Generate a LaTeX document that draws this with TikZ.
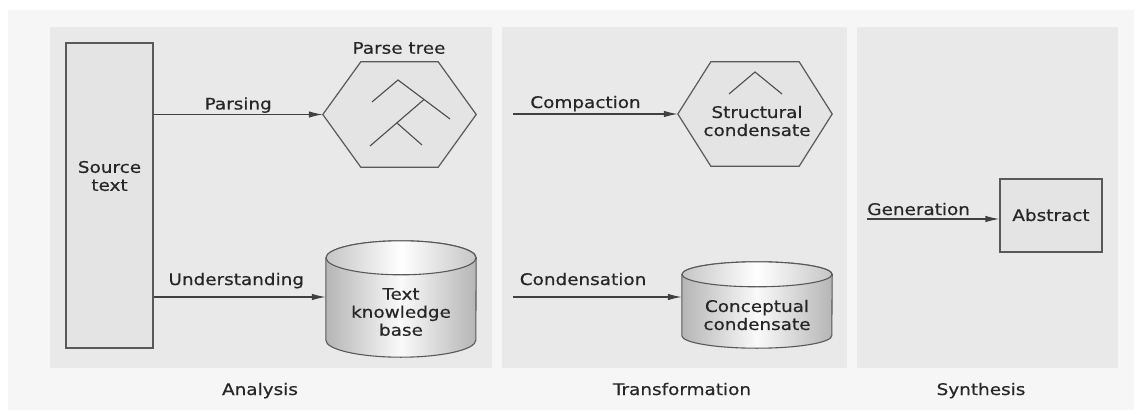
\documentclass[tikz,border=0pt]{standalone}
\usepackage{fontspec}
\setmainfont[FakeStretch=1.15,FakeBold=0.5]{DejaVu Sans}
\usetikzlibrary{arrows.meta,calc}

\tikzset{
  box/.style={draw=black!65, fill=gray!21, line width=1.2pt},
  flow/.style={draw=black!75, line width=1.2pt, -{Latex[length=14pt,width=6.5pt]}},
  lbl/.style={font=\fontsize{16}{18}\selectfont, text=black!85, inner sep=1pt, align=center},
  tag/.style={font=\fontsize{16}{18}\selectfont, text=black!85, anchor=base},
  branch/.style={draw=black!70, line width=1.1pt},
  drum/.style={draw=black!65, line width=1.1pt, left color=gray!58, right color=gray!58, middle color=gray!4},
  drumtop/.style={draw=black!65, line width=1.1pt, left color=gray!45, right color=gray!45, middle color=white},
}

\begin{document}
\begin{tikzpicture}[x=1pt,y=1pt]
  \useasboundingbox (0,0) rectangle (1142,413);
  \fill[white] (0,0) rectangle (1142,413);
  \fill[gray!7] (8,3) rectangle (1134,403);

  % phase panels
  \foreach \xa/\xb/\cx/\phase in {50/492/260/Analysis, 502/847/682/Transformation, 857/1118/981/Synthesis}{
    \fill[gray!17] (\xa,45) rectangle (\xb,386);
    \node[tag] (ph\phase) at (\cx,18) {\phase};
  }

  % source text
  \node[box, minimum width=87pt, minimum height=305pt] (src) at (109.5,217.5) {};
  \node[lbl] (srctxt) at (109.5,237) {Source\\text};

  % hexagons
  \node[minimum width=153pt, minimum height=105pt, inner sep=0pt] (parse) at (399.5,298.5) {};
  \node[minimum width=154pt, minimum height=104pt, inner sep=0pt] (struct) at (755,299) {};
  \foreach \n/\d in {parse/38, struct/33}
    \draw[box] (\n.west) -- ($(\n.north west)+(\d,0)$) -- ($(\n.north east)+(-\d,0)$)
      -- (\n.east) -- ($(\n.south east)+(-\d,0)$) -- ($(\n.south west)+(\d,0)$) -- cycle;
  \node[lbl] (parsetitle) at (399,365) {Parse tree};
  \draw[branch] (372,311) -- (398,333) -- (450,294);
  \draw[branch] (424,313.5) -- (370,267);
  \draw[branch] (397,290) -- (422,268);
  \draw[branch] (729,319) -- (755,341) -- (782,319);
  \node[lbl] (structtxt) at (757,292) {Structural\\condensate};

  % cylinders
  \node[minimum width=150pt, minimum height=116pt, inner sep=0pt] (kb) at (401,114) {};
  \node[minimum width=150pt, minimum height=86pt, inner sep=0pt] (cond) at (757,108) {};
  \foreach \n/\r in {kb/17, cond/12.5}{
    \path[drum] ($(\n.north west)+(0,-\r)$) -- ($(\n.south west)+(0,\r)$)
      arc[start angle=180, end angle=360, x radius=75, y radius=\r]
      -- ($(\n.north east)+(0,-\r)$)
      arc[start angle=0, end angle=180, x radius=75, y radius=\r] -- cycle;
    \path[drumtop] ($(\n.north)+(0,-\r)$) ellipse[x radius=75, y radius=\r];
  }
  \node[lbl] (kbtxt) at (401,101) {Text\\knowledge\\base};
  \node[lbl] (condtxt) at (757,98) {Conceptual\\condensate};

  % abstract
  \node[box, minimum width=102pt, minimum height=73pt] (abs) at (1051,197.5) {};
  \node[lbl] (abstxt) at (1051,198) {Abstract};

  % connectors
  \coordinate (cmp) at (513,299);
  \coordinate (cns) at (513,116);
  \coordinate (gen) at (867,194);
  \draw[flow] (src.east |- parse.west) -- node[tag, pos=0.5, yshift=5pt] {Parsing} (parse.west);
  \draw[flow] (src.east |- cns) -- node[tag, pos=0.48, yshift=12pt] {Understanding} (src.east |- cns -| kb.west);
  \draw[flow] (cmp) -- node[tag, pos=0.44, yshift=6pt] {Compaction} (struct.west);
  \draw[flow] (cns) -- node[tag, pos=0.415, yshift=12pt] {Condensation} (cns -| cond.west);
  \draw[flow] (gen) -- node[tag, pos=0.39, yshift=4pt] {Generation} (gen -| abs.west);
\end{tikzpicture}
\end{document}
